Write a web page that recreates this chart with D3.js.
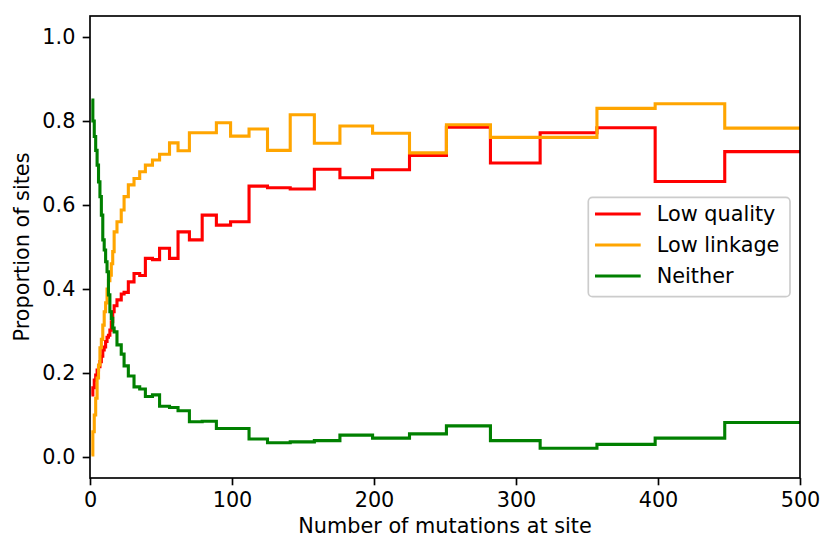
<!DOCTYPE html>
<html>
<head>
<meta charset="utf-8">
<script src="https://cdn.jsdelivr.net/npm/d3@7"></script>
<style>
  html, body { margin: 0; padding: 0; background: #ffffff; }
  svg { display: block; }
  text { font-family: "DejaVu Sans", sans-serif; fill: #000; }
</style>
</head>
<body>
<svg id="chart" width="821" height="539"></svg>
<script>
// Left edge of each mutation-count bin; the last bin runs to xMax.
const binStart = [1, 2, 3, 4, 5, 6, 7, 8, 9, 10, 11, 12, 13, 14, 15, 16,
  17, 19, 22, 24, 27, 31, 35, 39, 44, 49, 56, 62, 70, 79, 89, 99,
  112, 125, 141, 158, 176, 199, 225, 251, 282, 317, 357, 398, 447];
const xMax = 500;

const lowQuality = [0.148, 0.165, 0.183, 0.195, 0.207, 0.215, 0.227, 0.240, 0.255, 0.262, 0.275, 0.285, 0.290, 0.302, 0.322, 0.346,
  0.360, 0.374, 0.388, 0.392, 0.417, 0.437, 0.432, 0.473, 0.470, 0.497, 0.473, 0.536, 0.517, 0.576, 0.552, 0.560,
  0.645, 0.641, 0.638, 0.685, 0.665, 0.684, 0.718, 0.785, 0.700, 0.772, 0.784, 0.656, 0.727];

const lowLinkage = [0.005, 0.060, 0.100, 0.140, 0.188, 0.219, 0.260, 0.280, 0.314, 0.346, 0.367, 0.400, 0.420, 0.433, 0.460, 0.489,
  0.536, 0.560, 0.588, 0.620, 0.648, 0.663, 0.679, 0.695, 0.707, 0.721, 0.748, 0.729, 0.772, 0.772, 0.796, 0.764,
  0.781, 0.730, 0.815, 0.747, 0.788, 0.771, 0.724, 0.791, 0.761, 0.761, 0.830, 0.841, 0.783];

const neither = [0.850, 0.800, 0.763, 0.730, 0.695, 0.655, 0.620, 0.576, 0.517, 0.493, 0.465, 0.441, 0.386, 0.346, 0.330, 0.307,
  0.298, 0.267, 0.245, 0.217, 0.193, 0.167, 0.162, 0.144, 0.148, 0.121, 0.118, 0.110, 0.084, 0.085, 0.068, 0.068,
  0.043, 0.034, 0.036, 0.039, 0.052, 0.045, 0.055, 0.074, 0.039, 0.021, 0.030, 0.045, 0.082];

const seriesNames = ["Low quality", "Low linkage", "Neither"];
const seriesColors = ["#ff0000", "#ffa500", "#008000"];
const seriesValues = [lowQuality, lowLinkage, neither];

const xTicks = [0, 100, 200, 300, 400, 500];
const yTicks = [0.0, 0.2, 0.4, 0.6, 0.8, 1.0];
const xLabel = "Number of mutations at site";
const yLabel = "Proportion of sites";

// layout
const fs = 20.8;               // font size in px
const plot = { left: 90, right: 800, top: 16, bottom: 478 };
const tickLen = 7.3, tickPad = 7.3, axisLW = 1.67, lineLW = 3.1;

const svg = d3.select("#chart");

const x = d3.scaleLinear().domain([0, 500]).range([plot.left, plot.right]);
const y = d3.scaleLinear().domain([-0.05, 1.05]).range([plot.bottom, plot.top]);

// step lines
const line = d3.line()
  .x(d => x(d[0]))
  .y(d => y(d[1]))
  .curve(d3.curveStepAfter);

seriesValues.forEach((vals, i) => {
  const pts = binStart.map((b, j) => [b, vals[j]]);
  pts.push([xMax, vals[vals.length - 1]]);
  svg.append("path")
    .datum(pts)
    .attr("fill", "none")
    .attr("stroke", seriesColors[i])
    .attr("stroke-width", lineLW)
    .attr("stroke-linejoin", "miter")
    .attr("d", line);
});

// spines
svg.append("rect")
  .attr("x", plot.left).attr("y", plot.top)
  .attr("width", plot.right - plot.left).attr("height", plot.bottom - plot.top)
  .attr("fill", "none").attr("stroke", "#000").attr("stroke-width", axisLW);

// axes
const xAxis = d3.axisBottom(x).tickValues(xTicks).tickFormat(d3.format("d"))
  .tickSizeInner(tickLen).tickSizeOuter(0).tickPadding(tickPad);
const gx = svg.append("g").attr("transform", `translate(0,${plot.bottom})`).call(xAxis);

const yAxis = d3.axisLeft(y).tickValues(yTicks).tickFormat(d3.format(".1f"))
  .tickSizeInner(tickLen).tickSizeOuter(0).tickPadding(tickPad);
const gy = svg.append("g").attr("transform", `translate(${plot.left},0)`).call(yAxis);

[gx, gy].forEach(g => {
  g.select(".domain").remove();
  g.selectAll(".tick line").attr("stroke", "#000").attr("stroke-width", axisLW);
  g.selectAll(".tick text").attr("font-size", fs).attr("font-family", "DejaVu Sans").attr("fill", "#000");
});

// axis titles
svg.append("text")
  .attr("x", (plot.left + plot.right) / 2)
  .attr("y", 533)
  .attr("text-anchor", "middle")
  .attr("font-size", fs)
  .text(xLabel);

svg.append("text")
  .attr("transform", `translate(29,${(plot.top + plot.bottom) / 2}) rotate(-90)`)
  .attr("text-anchor", "middle")
  .attr("font-size", fs)
  .text(yLabel);

// legend
const lg = { x: 588.3, y: 197.3, w: 201.7, h: 99.4 };
svg.append("rect")
  .attr("x", lg.x).attr("y", lg.y).attr("width", lg.w).attr("height", lg.h)
  .attr("rx", 4.2).attr("ry", 4.2)
  .attr("fill", "#ffffff").attr("fill-opacity", 0.8)
  .attr("stroke", "#cccccc").attr("stroke-width", axisLW);

const rowY = [214, 245, 276];
seriesNames.forEach((name, i) => {
  svg.append("line")
    .attr("x1", 595).attr("x2", 640.7)
    .attr("y1", rowY[i]).attr("y2", rowY[i])
    .attr("stroke", seriesColors[i]).attr("stroke-width", lineLW);
  svg.append("text")
    .attr("x", 656.7).attr("y", rowY[i])
    .attr("dy", "0.36em")
    .attr("font-size", fs)
    .text(name);
});
</script>
</body>
</html>
